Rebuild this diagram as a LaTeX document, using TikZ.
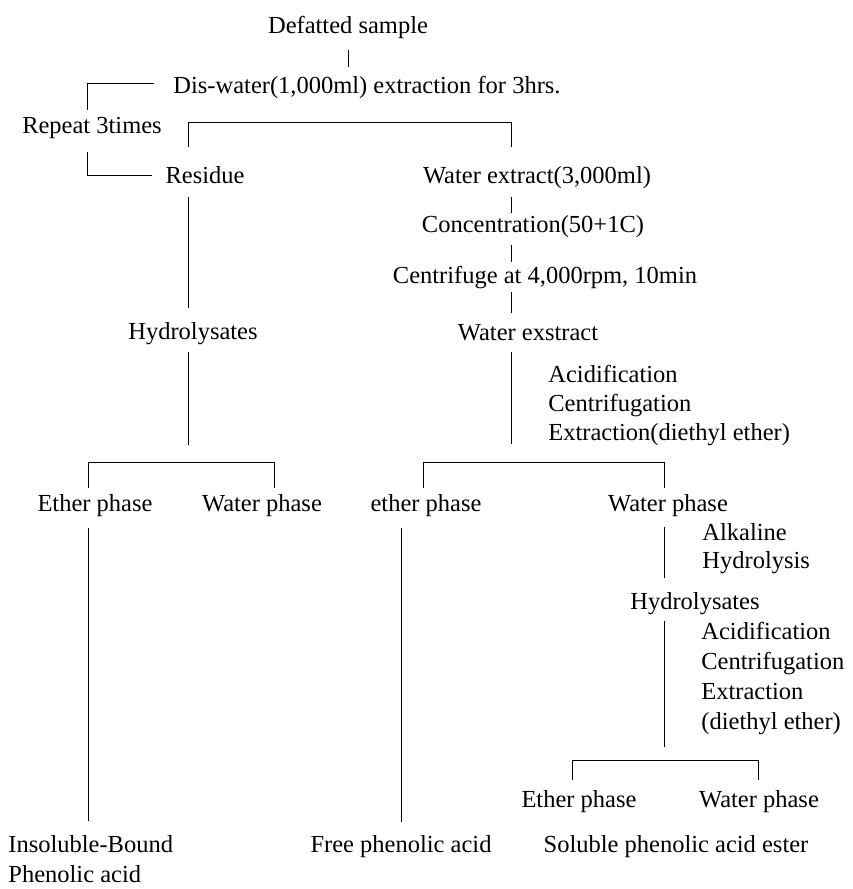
\documentclass[tikz,border=0pt]{standalone}
\usepackage{fontspec}
\setmainfont{Liberation Serif}
\newcommand{\flowfont}{\fontsize{24.5}{29}\selectfont}

\begin{document}
\begin{tikzpicture}[x=1pt,y=-1pt,line width=.8pt,
  every node/.style={font=\flowfont,inner sep=0pt,text height=17pt,text depth=5pt,anchor=base},
  side/.style={anchor=base west},
  link/.style 2 args={shorten <=#1pt,shorten >=#2pt}]
\useasboundingbox (0,0) rectangle (852,889);
% steps
\node (defat) at (348,33) {Defatted sample};
\node (dis) at (367,93) {Dis-water(1,000ml) extraction for 3hrs.};
\node (rep) at (92,133) {Repeat 3times};
\node (res) at (205,183) {Residue};
\node (wext) at (537,183) {Water extract(3,000ml)};
\node (conc) at (533,232) {Concentration(50+1C)};
\node (cent) at (545,283) {Centrifuge at 4,000rpm, 10min};
\node (hydl) at (193,339) {Hydrolysates};
\node (wex) at (528,340) {Water exstract};
\node[side] (acid1) at (548,382) {Acidification};
\node[side] (cfg1) at (548,411) {Centrifugation};
\node[side] (extr1) at (548,440) {Extraction(diethyl ether)};
\node (eth1) at (95,511) {Ether phase};
\node (wat1) at (262,511) {Water phase};
\node (eth2) at (426,511) {ether phase};
\node (wat2) at (668,511) {Water phase};
\node[side] (alk) at (702,540) {Alkaline};
\node[side] (hlys) at (702,568) {Hydrolysis};
\node (hydr) at (695,609) {Hydrolysates};
\node[side] (acid2) at (701,639) {Acidification};
\node[side] (cfg2) at (701,669) {Centrifugation};
\node[side] (extr2) at (701,699) {Extraction};
\node[side] (dee) at (701,729) {(diethyl ether)};
\node (eth3) at (579,807) {Ether phase};
\node (wat3) at (759,807) {Water phase};
\node[side] (insol) at (8,852) {Insoluble-Bound};
\node[side] (phen) at (8,882) {Phenolic acid};
\node (free) at (401,852) {Free phenolic acid};
\node (sol) at (676,852) {Soluble phenolic acid ester};
% fork corners
\coordinate (xloop) at (87,0);
\coordinate (fork1l) at (188,122);
\coordinate (fork1r) at (511,122);
\coordinate (fork2l) at (88,462);
\coordinate (fork2r) at (274,462);
\coordinate (fork3l) at (423,462);
\coordinate (fork3r) at (664,462);
\coordinate (fork4l) at (572,760);
\coordinate (fork4r) at (758,760);
% top
\draw[link={12}{9}] (defat.south) -- (defat.south |- dis.north);
\draw[shorten >=6pt] ([xshift=-19pt,yshift=4pt]dis.west) -| (rep.north -| xloop);
\draw[shorten <=14pt] (rep.south -| xloop) |- ([xshift=-13pt,yshift=2pt]res.west);
\draw[link={19}{19}] (res.north -| fork1l) -- (fork1l) -- (fork1r) -- (wext.north -| fork1r);
% left branch
\draw[link={9}{14}] (res.south -| fork1l) -- (hydl.north -| fork1l);
\draw[link={8}{17}] (hydl.south -| fork1l) -- (fork1l |- fork2l);
\draw[link={6}{6}] (eth1.north -| fork2l) -- (fork2l) -- (fork2r) -- (wat1.north -| fork2r);
\draw[link={12}{14}] (eth1.south -| fork2l) -- (insol.north -| fork2l);
% right branch
\draw[link={9}{2}] (wext.south -| fork1r) -- (conc.north -| fork1r);
\draw[link={8}{4}] (conc.south -| fork1r) -- (cent.north -| fork1r);
\draw[link={4}{10}] (cent.south -| fork1r) -- (wex.north -| fork1r);
\draw[link={7}{18}] (wex.south -| fork1r) -- (fork1r |- fork3l);
\draw[link={6}{6}] (eth2.north -| fork3l) -- (fork3l) -- (fork3r) -- (wat2.north -| fork3r);
\draw[link={12}{13}] (free.north |- eth2.south) -- (free.north);
\draw[link={11}{14}] (wat2.south -| fork3r) -- (hydr.north -| fork3r);
\draw[link={7}{13}] (hydr.south -| fork3r) -- (fork3r |- fork4l);
\draw[link={10}{10}] (eth3.north -| fork4l) -- (fork4l) -- (fork4r) -- (wat3.north -| fork4r);
\end{tikzpicture}
\end{document}
